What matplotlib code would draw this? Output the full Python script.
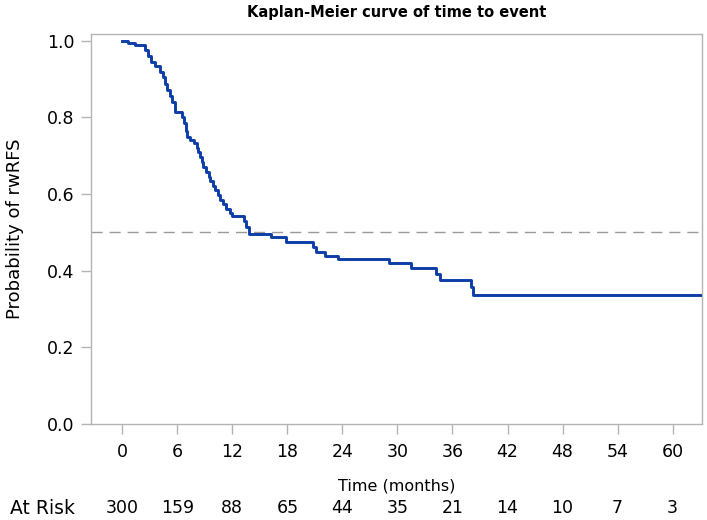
import matplotlib
matplotlib.use("Agg")
import matplotlib.pyplot as plt
from matplotlib.transforms import blended_transform_factory

plt.rcParams['font.family'] = ['DejaVu Sans']

# Step points of the Kaplan-Meier curve (time in months, survival probability)
km_times = [0, 0.6, 1.4, 2.5, 2.8, 3.1, 3.6, 4.1, 4.4, 4.7, 4.9, 5.2, 5.4, 5.75,
            6.5, 6.7, 6.9, 7.1, 7.4, 7.8, 8.1, 8.3, 8.5, 8.7, 8.8, 9.1, 9.4, 9.6,
            9.9, 10.1, 10.4, 10.7, 11.0, 11.3, 11.7, 12.0, 13.3, 13.5, 13.8,
            16.2, 17.8, 20.8, 21.1, 22.1, 23.5, 29.1, 31.5, 34.2, 34.6, 38.0,
            38.2, 63.2]
km_surv = [1.000, 0.995, 0.988, 0.975, 0.960, 0.945, 0.935, 0.919, 0.905, 0.888,
           0.871, 0.857, 0.841, 0.815,
           0.800, 0.785, 0.765, 0.750, 0.740, 0.732, 0.720, 0.710, 0.697, 0.684,
           0.671, 0.658, 0.645, 0.635,
           0.620, 0.610, 0.598, 0.585, 0.575, 0.562, 0.550, 0.542, 0.530, 0.515,
           0.497,
           0.489, 0.474, 0.463, 0.450, 0.438, 0.430, 0.421, 0.407, 0.391, 0.376,
           0.358, 0.337, 0.337]

x_ticks = [0, 6, 12, 18, 24, 30, 36, 42, 48, 54, 60]
y_ticks = [0.0, 0.2, 0.4, 0.6, 0.8, 1.0]
at_risk = [300, 159, 88, 65, 44, 35, 21, 14, 10, 7, 3]
median_line = 0.5

W, H = 707, 520
fig = plt.figure(figsize=(W / 100, H / 100), dpi=100)
ax = fig.add_axes([91 / W, 96 / H, 611 / W, 390 / H])

ax.step(km_times, km_surv, where='post', color='#0d3ea8', lw=2.1, zorder=3)
ax.axhline(median_line, color='#9a9a9a', lw=1.0, dashes=(8, 5), zorder=2)

ax.set_xlim(-3.41, 63.2)
ax.set_ylim(0, 1.0175)
ax.set_xticks(x_ticks)
ax.set_yticks(y_ticks)
ax.set_yticklabels([f"{v:.1f}" for v in y_ticks])

for s in ax.spines.values():
    s.set_color('#b4b4b4')
    s.set_linewidth(1.0)
ax.tick_params(axis='both', colors='#b4b4b4', labelcolor='black', labelsize=12.5,
               length=7, width=1.0)
ax.tick_params(axis='x', pad=7)
ax.tick_params(axis='y', pad=5)

fig.text((91 + 611 / 2) / W, (H - 12.5) / H, "Kaplan-Meier curve of time to event",
         ha='center', va='center', fontsize=10.5, fontweight='bold')
fig.text(15 / W, (H - 229) / H, "Probability of rwRFS", rotation=90,
         ha='center', va='center', fontsize=13)
fig.text((91 + 611 / 2) / W, (H - 486) / H, "Time (months)",
         ha='center', va='center', fontsize=11.5)

trans = blended_transform_factory(ax.transData, fig.transFigure)
y_risk = (H - 508) / H
for t, n in zip(x_ticks, at_risk):
    ax.text(t, y_risk, str(n), transform=trans, ha='center', va='center',
            fontsize=12.5, clip_on=False)
fig.text(10 / W, y_risk, "At Risk", ha='left', va='center', fontsize=13.5)

fig.savefig("out.png", dpi=100)
